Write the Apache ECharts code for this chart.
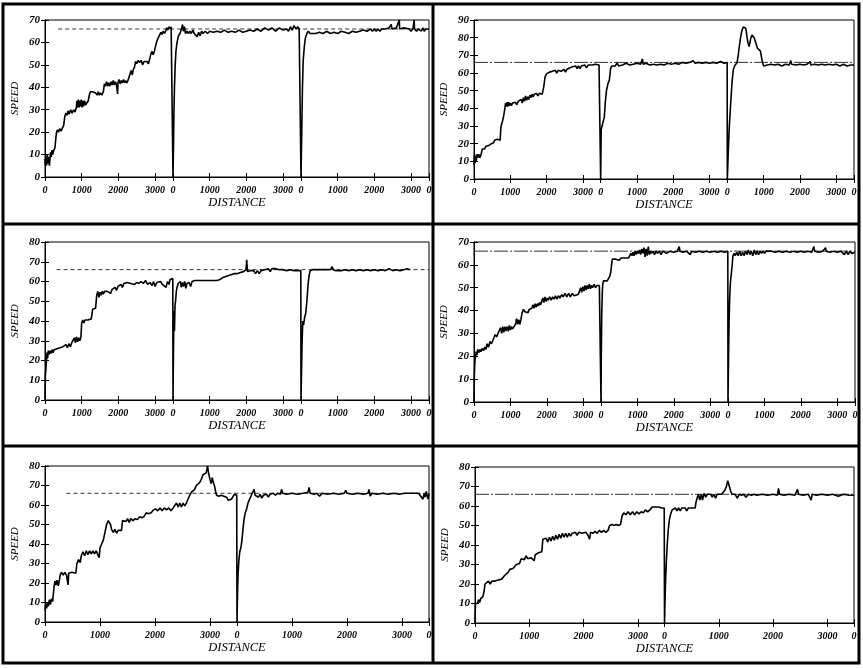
<!DOCTYPE html>
<html><head><meta charset="utf-8">
<script src="https://cdn.jsdelivr.net/npm/echarts@6/dist/echarts.min.js"></script>
<style>html,body{margin:0;padding:0;background:#fff}#c{width:863px;height:668px}</style>
</head><body><div id="c"></div>
<script>
// Segment length (distance units) and tick labels
const L = 3490;
const xTickLabels = [0, 1000, 2000, 3000];
const speedLimit = 66;

// Panel 1 (top-left)
const p1a = [[0,8],[10,5],[25,9],[40,5],[60,10],[80,6],[100,9],[120,5],[135,8],[150,11],[170,9],[190,12],[210,10],[240,12],[270,13],[300,18],[315,20],[340,21],[370,20],[400,21.5],[440,20.5],[480,22],[510,23],[540,27],[570,28.5],[600,27.5],[630,29.5],[660,28],[700,30],[740,28.5],[780,30],[820,29],[855,31],[870,34],[890,31],[910,34.5],[930,31],[950,34],[970,31.5],[990,34.5],[1010,31],[1030,34],[1050,31.5],[1080,34],[1110,32],[1140,33],[1180,34],[1215,37],[1240,38],[1270,38.5],[1300,38],[1340,38],[1380,37.5],[1420,36.5],[1450,38],[1480,36.5],[1510,37.5],[1550,36.5],[1590,38],[1620,41.5],[1650,40.5],[1680,42.5],[1710,40.5],[1740,42],[1770,40.5],[1800,42.5],[1830,41],[1860,43],[1890,41],[1920,42.5],[1950,41],[1980,37],[1990,42],[2020,43.5],[2050,41.5],[2080,43],[2110,42],[2140,43.5],[2170,42],[2200,43],[2230,42],[2260,43],[2290,44.5],[2320,46],[2350,47.5],[2380,45.5],[2410,48],[2440,49],[2470,51.5],[2500,50.5],[2540,52],[2580,51],[2620,52],[2660,50],[2700,51.5],[2740,52],[2780,51.5],[2820,50.5],[2860,53],[2890,55],[2920,56],[2950,54.5],[2980,56],[3010,58],[3040,60],[3070,61.5],[3100,62],[3130,63.5],[3160,64.5],[3190,63.5],[3220,65],[3260,64],[3290,65],[3320,66.5],[3350,65.5],[3380,67],[3410,66],[3440,67],[3485,66.5],[3490,0]];
const p1b = [[15,15],[25,28],[40,40],[60,50],[80,56],[110,60],[150,63],[190,64],[230,66],[260,68],[280,65],[310,67],[340,64],[380,65],[420,64],[460,65],[500,64],[540,65.5],[580,64],[620,64.5],[660,62.5],[700,64.5],[740,63],[780,65],[820,64],[880,65],[940,64],[1000,65],[1100,64.5],[1200,65],[1300,64.5],[1400,65.5],[1500,64.5],[1600,65],[1700,64.5],[1800,65.5],[1900,64.5],[2000,65],[2100,65.5],[2200,65],[2300,66],[2400,65],[2500,66.5],[2600,65.5],[2700,66.5],[2800,65],[2900,66.5],[3000,65.5],[3100,66],[3150,65],[3200,67],[3250,65.5],[3300,67.5],[3350,66],[3400,67],[3440,66],[3485,66.5],[3490,0]];
const p1c = [[20,20],[40,40],[60,52],[90,58],[120,62],[160,64],[200,65],[250,64],[300,64.5],[400,64],[500,64.5],[600,64],[700,65],[800,64],[900,64.5],[1000,64],[1100,65],[1200,64.5],[1300,64],[1400,65],[1500,64.5],[1600,65],[1700,65.5],[1800,65],[1900,66],[1950,65],[2000,66],[2050,65],[2100,66],[2150,65],[2200,66],[2250,65.5],[2300,66],[2400,66.5],[2460,68],[2480,66],[2600,66.5],[2680,70],[2690,66],[2800,66.5],[2850,66],[2950,66],[3000,65],[3050,66],[3085,70],[3095,66],[3150,65],[3200,66],[3280,65],[3320,66.5],[3360,65],[3400,66],[3450,65.5],[3490,66]];

// Panel 2 (top-right)
const p2a = [[0,8],[15,14],[30,9],[45,13],[60,10],[80,14],[100,12],[130,14],[160,12],[190,13.5],[230,17],[260,18],[290,17],[330,18.5],[370,18],[410,19],[450,19],[480,20],[510,21],[540,20.5],[570,22],[600,21],[640,22.5],[680,21.5],[720,22],[740,29],[760,31],[790,33],[820,36],[850,40],[870,43],[890,41],[910,43.5],[930,41],[950,43.5],[970,41.5],[1000,43],[1030,41.5],[1060,43],[1100,42],[1140,43.5],[1180,42],[1220,44],[1260,43.5],[1300,45],[1330,43],[1360,46],[1390,44],[1420,47],[1450,44.5],[1480,46.5],[1510,45],[1540,47.5],[1570,46],[1600,48],[1630,46.5],[1660,48],[1690,47],[1720,48.5],[1760,47],[1800,48.5],[1840,48],[1880,48],[1920,52],[1960,58],[2000,59.5],[2040,59],[2080,60.5],[2120,59.5],[2160,61],[2200,60],[2240,61.5],[2280,60],[2320,61.5],[2360,60.5],[2400,61],[2440,60],[2480,62],[2520,60.5],[2560,62],[2600,61.5],[2640,63],[2680,62],[2720,63.5],[2760,62.5],[2800,64],[2840,62.5],[2880,64],[2920,62.5],[2960,64],[3000,63],[3050,64.5],[3100,63],[3150,64.5],[3200,63.5],[3250,64.5],[3300,64],[3350,65],[3400,64],[3445,64.5],[3485,64.5],[3490,0]];
const p2b = [[15,28],[40,29],[70,28],[100,35],[130,44],[160,50],[200,54],[240,56],[270,62],[300,64],[340,65],[400,64],[450,65.5],[500,64],[550,65],[600,64.5],[650,65],[700,65.5],[800,64.5],[900,65],[1000,65.5],[1100,65],[1150,68],[1170,65],[1250,65.5],[1350,64.5],[1450,65],[1550,64.5],[1650,65],[1750,64.5],[1850,65.5],[1950,65],[2050,65.5],[2150,65],[2250,66],[2350,65.5],[2450,66],[2500,65],[2550,67],[2600,65.5],[2700,66],[2800,65.5],[2900,66],[3000,65.5],[3100,66],[3200,65.5],[3300,66.5],[3400,65.5],[3445,66],[3485,66],[3490,0]];
const p2c = [[25,15],[50,28],[90,42],[130,55],[165,62],[200,64],[230,65],[270,66],[300,70],[330,75],[365,80],[400,84],[440,86],[470,87],[500,85.5],[520,84],[545,80],[570,77],[600,75],[625,76],[650,80],[680,81.5],[710,82],[740,80],[770,78],[800,76],[830,74],[870,73.5],[910,72.5],[940,69],[970,66],[1000,64],[1050,65],[1100,64.5],[1200,65],[1300,64.5],[1400,65],[1500,64],[1600,65],[1700,64.5],[1750,67],[1770,65],[1900,64.5],[2000,65],[2100,64.5],[2200,65],[2280,66.5],[2300,64.5],[2400,65],[2500,64.5],[2600,65],[2700,64.5],[2800,65],[2900,64.5],[3000,65],[3100,64],[3200,65],[3300,64],[3400,64.5],[3450,64],[3490,64.5]];

// Panel 3 (middle-left)
const p3a = [[0,0],[10,12],[25,16],[40,20],[55,24],[70,21],[90,25],[110,23],[135,25],[160,23.5],[190,25.5],[220,24],[250,25.5],[290,24.5],[330,26],[370,25],[410,26.5],[450,26],[490,27],[530,26],[570,28],[610,26.5],[650,28.5],[690,27],[730,29],[765,30],[800,31.5],[830,29],[860,32],[890,29.5],[920,31.5],[950,30],[980,32],[1000,39],[1030,40.5],[1060,39],[1090,40.5],[1130,39.5],[1170,40.5],[1210,40],[1260,41],[1300,46],[1340,47],[1380,46.5],[1410,53],[1440,55],[1470,52],[1500,54.5],[1530,53],[1560,55],[1590,53.5],[1620,55],[1660,54],[1700,55],[1750,55.5],[1790,54],[1830,56],[1870,55],[1910,57],[1950,55.5],[1990,57.5],[2030,57],[2070,58.5],[2110,57],[2150,59],[2190,58],[2240,59.5],[2290,58.5],[2340,59],[2390,59.5],[2440,58.5],[2500,59.5],[2560,59],[2620,60],[2680,59],[2740,60.5],[2800,58.5],[2860,59.5],[2920,58],[2960,60],[3000,57.5],[3050,59.5],[3100,58.5],[3150,60],[3200,58.5],[3250,59.5],[3300,57],[3340,60],[3380,58.5],[3410,61],[3440,62],[3485,61.5],[3490,0]];
const p3b = [[10,20],[25,45],[40,35],[55,48],[70,50],[90,55],[110,57],[140,59],[170,58],[200,60],[230,57],[260,59.5],[290,57.5],[320,60],[350,56.5],[380,59],[410,58],[440,59.5],[480,57.5],[520,60],[560,60],[600,60.5],[700,60.5],[800,60.5],[900,60.5],[1000,60.5],[1100,60.5],[1200,60.5],[1280,61],[1320,60.5],[1360,62],[1400,61],[1440,62.5],[1480,61.5],[1520,63],[1560,62],[1600,63.5],[1640,63],[1680,64],[1720,63],[1760,64],[1800,63.5],[1840,64.5],[1880,63.5],[1920,65],[1960,64],[1990,66],[2010,71],[2030,65],[2060,64],[2100,65.5],[2150,64.5],[2200,65.5],[2250,64],[2300,65.5],[2350,64],[2400,65.5],[2450,64.5],[2500,66],[2550,65],[2600,66.5],[2650,65],[2700,66.5],[2750,65.5],[2800,66.5],[2850,65.5],[2900,66],[2950,65],[3000,66],[3050,65],[3100,65.5],[3150,65],[3200,66],[3250,65],[3300,65.5],[3350,65],[3400,65.5],[3440,65],[3485,65.5],[3490,0]];
const p3c = [[15,15],[30,30],[50,40],[70,38],[100,42],[130,44],[160,50],[190,58],[220,63],[250,65.5],[280,64.5],[320,66],[360,65],[400,66],[450,65],[500,66],[550,65],[600,66],[650,65.5],[700,66],[750,65],[800,66],[850,67.5],[880,66],[950,65.5],[1000,66],[1100,65.5],[1200,66],[1300,65.5],[1400,66],[1500,65.5],[1600,66],[1700,65.5],[1800,66],[1900,65.5],[2000,66],[2100,65.5],[2200,66],[2300,65.5],[2400,66.5],[2500,65.5],[2600,66],[2700,65.5],[2800,66],[2900,66.5],[2950,67.5],[2970,66]];

// Panel 4 (middle-right)
const p4a = [[0,0],[10,12],[25,18],[45,20],[60,22],[80,20.5],[100,23],[130,21.5],[160,23],[190,22],[230,23.5],[260,22.5],[300,24],[330,23],[360,25.5],[400,24],[440,26.5],[480,25.5],[520,27],[545,28],[580,29.5],[620,28.5],[660,30],[700,30.5],[730,32.5],[760,30],[790,33],[820,30.5],[850,33],[880,31],[910,33],[940,31],[970,33.5],[1000,31.5],[1030,33],[1060,32],[1100,33],[1140,34],[1170,36.5],[1200,34],[1230,36],[1260,34],[1290,36],[1320,39],[1360,40.5],[1400,39.5],[1440,40],[1480,39],[1520,40.5],[1560,40],[1590,41],[1620,42.5],[1650,41],[1680,43],[1710,41.5],[1740,43],[1770,42],[1800,43.5],[1830,42.5],[1860,44],[1890,45.5],[1920,43.5],[1950,46],[1980,44],[2010,45.5],[2040,44.5],[2080,46],[2120,44.5],[2160,46],[2200,45],[2240,46.5],[2280,45],[2320,46.5],[2360,45.5],[2410,47],[2450,46],[2500,47.5],[2550,46],[2600,47.5],[2650,46],[2700,47.5],[2750,46.5],[2800,47],[2860,47],[2900,48.5],[2930,50],[2960,48],[2990,50.5],[3020,48.5],[3050,51],[3080,49],[3110,51],[3140,49.5],[3170,51.5],[3200,49.5],[3230,51],[3260,50],[3300,51.5],[3340,50],[3380,51],[3420,50.5],[3445,51],[3485,50.5],[3490,0]];
const p4b = [[8,20],[20,38],[35,48],[50,52],[70,53],[120,53],[170,53],[210,53.5],[240,55],[270,57],[290,60],[310,62.5],[350,63],[400,62.5],[450,63],[500,62],[550,63],[600,62.5],[650,63],[700,62.5],[750,63],[790,64],[820,65],[850,64],[880,65.5],[910,64],[940,66],[970,64.5],[1000,66],[1030,65],[1060,66.5],[1090,64.5],[1120,67],[1150,65],[1180,67.5],[1210,63.5],[1240,67],[1270,64],[1300,68],[1330,64.5],[1360,66],[1390,65],[1430,66],[1470,64.5],[1510,66],[1550,65],[1600,66],[1650,64.5],[1700,66],[1800,65],[1900,66],[2000,65.5],[2100,66],[2150,68],[2170,66],[2250,65.5],[2350,66],[2450,64.5],[2500,66],[2600,65.5],[2700,66],[2800,65.5],[2900,66],[3000,65.5],[3100,66],[3200,65.5],[3300,66],[3400,65.5],[3445,66],[3485,66],[3490,0]];
const p4c = [[15,20],[30,35],[45,45],[65,52],[90,56],[115,60],[136,64],[170,65],[200,64],[240,65.5],[280,64],[320,66],[360,64],[400,65.5],[440,64],[480,66],[520,64.5],[560,66.5],[600,64.5],[640,66],[680,64],[720,66.5],[760,64.5],[800,66],[840,64.5],[880,66],[920,65],[960,66],[1000,65],[1050,66],[1100,65.5],[1200,66],[1300,65.5],[1400,66],[1500,65.5],[1600,66],[1700,65.5],[1800,66],[1900,65.5],[2000,66],[2100,65.5],[2200,66],[2300,65.5],[2360,68],[2380,66],[2500,65.5],[2600,66],[2680,67.5],[2700,66],[2800,65.5],[2900,66],[3000,65.5],[3100,66],[3200,64.5],[3250,66],[3300,64.5],[3350,66],[3400,65],[3450,65.5],[3490,65.5]];

// Panel 5 (bottom-left)
const p5a = [[0,6],[15,9.5],[30,7],[45,10],[60,8],[80,11.5],[100,9],[120,12],[140,10.5],[150,14],[165,18],[180,21],[200,19],[220,21.5],[240,18.5],[260,21],[275,24],[300,25.5],[330,24],[360,25.5],[390,24],[420,19],[430,25],[460,24],[490,25.5],[520,24.5],[560,25],[580,30],[610,32],[640,30.5],[660,34],[690,36],[720,34],[750,36.5],[780,34.5],[810,36.5],[840,35],[870,36.5],[900,35],[930,36.5],[960,35.5],[985,33],[1000,38],[1030,40],[1060,42],[1090,46],[1120,50],[1150,52],[1170,53],[1190,50],[1210,47.5],[1240,46],[1270,47.5],[1300,45.5],[1330,47],[1360,46],[1390,47],[1410,52],[1440,53],[1470,51.5],[1500,53],[1530,51],[1560,53],[1600,52],[1640,53],[1680,52.5],[1720,54],[1760,53.5],[1800,54],[1840,56],[1880,55.5],[1930,56],[1970,57.5],[2010,58],[2050,57],[2090,58.5],[2130,57],[2170,58.5],[2210,57.5],[2250,58.5],[2290,57],[2330,58.5],[2360,59.5],[2390,61],[2420,59],[2450,61],[2480,59],[2510,61],[2540,59.5],[2570,61],[2600,62],[2630,65],[2660,66.5],[2690,66],[2720,68],[2750,70],[2780,71],[2810,71.5],[2840,73],[2870,75.5],[2900,74.5],[2930,76.5],[2955,80],[2975,76],[3000,73],[3020,71],[3040,74],[3060,71.5],[3080,70],[3100,67],[3120,65],[3160,64.5],[3200,65],[3250,64.5],[3300,64],[3330,62.5],[3360,62],[3390,63],[3420,64],[3440,65.5],[3485,65],[3490,0]];
const p5b = [[10,15],[20,25],[35,32],[50,36],[70,38],[90,42],[110,48],[130,53],[150,56],[175,58],[200,61],[230,63],[260,65],[290,66],[310,68],[330,65],[360,66],[390,64],[420,65.5],[450,63.5],[480,65],[510,64],[540,65.5],[570,64],[600,65.5],[630,64.5],[660,66],[700,65],[740,66],[790,65.5],[810,68],[830,66],[900,65.5],[1000,66],[1100,65.5],[1200,66],[1290,66.5],[1310,69],[1330,66],[1400,65.5],[1450,66],[1500,64.5],[1550,66],[1650,65.5],[1750,66],[1850,65.5],[1950,66],[1975,67.5],[2000,66],[2100,65.5],[2200,66],[2300,65.5],[2380,66],[2400,68],[2420,64.5],[2450,66],[2550,65.5],[2650,66],[2750,65.5],[2850,66],[2950,65.5],[3050,66],[3080,67],[3100,66],[3200,66],[3300,66],[3380,63],[3400,66],[3420,64],[3440,67],[3470,63],[3490,66]];

// Panel 6 (bottom-right)
const p6a = [[0,0],[8,10],[25,11],[45,10],[65,12],[85,10.5],[105,12.5],[125,11.5],[145,13.5],[165,16],[185,20],[200,21],[220,19],[250,21.5],[280,20],[310,21.5],[340,20.5],[370,21.5],[400,20.5],[430,22],[460,21],[490,22.5],[520,23],[550,24.5],[580,23.5],[610,26],[640,27.5],[670,26.5],[700,28],[730,28.5],[760,30],[790,29],[820,30.5],[850,33],[880,34],[910,32.5],[940,34.5],[970,33],[1000,34],[1030,33.5],[1060,34.5],[1090,32],[1110,35],[1140,34.5],[1170,36],[1200,35],[1230,36.5],[1250,43],[1280,42],[1310,43.5],[1340,41.5],[1370,44],[1400,42],[1430,44.5],[1460,42.5],[1490,45],[1520,43],[1550,45.5],[1580,43.5],[1610,46],[1640,44],[1670,46],[1700,44],[1730,46],[1760,44.5],[1790,46],[1820,45],[1850,46.5],[1880,45],[1910,46.5],[1940,45.5],[1970,46],[2000,45.5],[2040,46.5],[2080,45],[2110,43],[2130,46.5],[2170,46],[2210,47],[2250,46],[2290,47.5],[2330,46.5],[2370,47.5],[2410,46.5],[2450,47.5],[2480,50],[2520,50.5],[2560,50],[2600,50.5],[2640,50],[2680,50.5],[2710,55],[2740,56.5],[2780,55.5],[2820,57],[2860,55.5],[2900,57],[2940,55.5],[2980,57],[3020,56],[3060,57],[3100,56.5],[3140,58],[3180,57],[3220,58],[3260,59.5],[3300,59.5],[3340,59.5],[3380,59.5],[3410,58.5],[3440,59],[3485,59],[3490,0]];
const p6b = [[10,12],[20,22],[35,32],[50,40],[70,48],[90,53],[115,56],[140,58],[170,57.5],[200,59],[230,57.5],[260,59],[290,57.5],[320,59],[350,58],[380,59],[410,57.5],[440,59],[470,58],[500,59],[530,58],[565,59],[580,62],[600,64],[625,66],[650,63],[680,66],[700,63],[730,66.5],[760,64.5],[790,66],[820,65],[850,66],[880,64.5],[910,66],[940,64],[970,66],[1000,65],[1050,66],[1080,66],[1110,68],[1140,70],[1165,73],[1180,74],[1195,70],[1215,68],[1240,66],[1270,65],[1300,66],[1340,64],[1380,66],[1420,65.5],[1460,66],[1500,64.5],[1550,66],[1600,65.5],[1650,66],[1700,65.5],[1800,66],[1900,65.5],[2000,66],[2080,65.5],[2100,69],[2120,66],[2200,65.5],[2300,66],[2400,65.5],[2450,68.5],[2470,66],[2550,65.5],[2650,66],[2700,63],[2720,66],[2800,65.5],[2900,66],[3000,65.5],[3100,66],[3200,65],[3300,66],[3400,65.5],[3450,65.5],[3490,65.5]];

// Y-axis maxima per panel and where the speed-limit line begins
const yMax = [70, 90, 80, 70, 80, 80];
const refStart = [360, 0, 315, 0, 390, 0];

// Layout (pixels)
const panels = [
  {segs:[p1a,p1b,p1c], grid:{left:45, top:20, width:384, height:157}, dash:[4,3]},
  {segs:[p2a,p2b,p2c], grid:{left:474, top:20, width:380, height:159}, dash:[14,2,2,2]},
  {segs:[p3a,p3b,p3c], grid:{left:45, top:242, width:384, height:158}, dash:[4,3]},
  {segs:[p4a,p4b,p4c], grid:{left:474, top:242, width:381, height:160}, dash:[14,2,2,2]},
  {segs:[p5a,p5b], grid:{left:45, top:466, width:384, height:156}, dash:[4,3]},
  {segs:[p6a,p6b], grid:{left:475, top:467, width:379, height:156}, dash:[14,2,2,2]}
];

const FONT = '"Liberation Serif", "DejaVu Serif", serif';
function build(segs){const out=[];segs.forEach((s,k)=>s.forEach(p=>out.push([p[0]+k*L,p[1]])));return out;}
function ticks(n){const t=[];for(let k=0;k<n;k++)xTickLabels.forEach(v=>t.push(k*L+v));t.push(n*L);return t;}
function fmt(v){let r=v-L*Math.floor(v/L+1e-9);if(Math.abs(r)<1e-6||Math.abs(r-L)<1e-6)r=0;return String(Math.round(r));}

const grids=[],xAxes=[],yAxes=[],series=[];
panels.forEach((p,i)=>{
  const n=p.segs.length, tv=ticks(n);
  grids.push(Object.assign({show:true,borderColor:'#000',borderWidth:1,containLabel:false},p.grid));
  const axLine={show:true,lineStyle:{color:'#000',width:1}};
  xAxes.push({type:'value',gridIndex:i,min:0,max:n*L,position:'bottom',
    axisLine:axLine,splitLine:{show:false},
    axisTick:{show:true,inside:true,length:4,customValues:tv,lineStyle:{color:'#000'}},
    axisLabel:{customValues:tv,formatter:fmt,margin:8,color:'#000',fontFamily:FONT,fontStyle:'italic',fontWeight:'bold',fontSize:10},
    name:'DISTANCE',nameLocation:'middle',nameGap:18,
    nameTextStyle:{color:'#000',fontFamily:FONT,fontStyle:'italic',fontSize:12.5}});
  xAxes.push({type:'value',gridIndex:i,min:0,max:n*L,position:'top',
    axisLine:axLine,splitLine:{show:false},
    axisTick:{show:true,inside:true,length:4,customValues:tv,lineStyle:{color:'#000'}},
    axisLabel:{show:false}});
  yAxes.push({type:'value',gridIndex:i,min:0,max:yMax[i],interval:10,position:'left',
    axisLine:axLine,splitLine:{show:false},
    axisTick:{show:true,inside:true,length:4,lineStyle:{color:'#000'}},
    axisLabel:{margin:5,color:'#000',fontFamily:FONT,fontStyle:'italic',fontWeight:'bold',fontSize:11},
    name:'SPEED',nameLocation:'middle',nameGap:24,nameRotate:90,
    nameTextStyle:{color:'#000',fontFamily:FONT,fontStyle:'italic',fontSize:11}});
  yAxes.push({type:'value',gridIndex:i,min:0,max:yMax[i],interval:10,position:'right',
    axisLine:axLine,splitLine:{show:false},
    axisTick:{show:true,inside:true,length:4,lineStyle:{color:'#000'}},
    axisLabel:{show:false}});
  series.push({type:'line',xAxisIndex:2*i,yAxisIndex:2*i,data:[[refStart[i],speedLimit],[n*L,speedLimit]],
    showSymbol:false,silent:true,lineStyle:{color:'#000',width:0.8,type:p.dash}});
  series.push({type:'line',xAxisIndex:2*i,yAxisIndex:2*i,data:build(p.segs),
    showSymbol:false,silent:true,lineStyle:{color:'#000',width:1.6}});
});

const frame={stroke:'#000',lineWidth:3,fill:null};
const chart=echarts.init(document.getElementById('c'),null,{renderer:'canvas'});
chart.setOption({
  animation:false,
  grid:grids,xAxis:xAxes,yAxis:yAxes,series:series,
  graphic:[
    {type:'rect',shape:{x:3,y:4,width:856,height:659},style:frame,z:10},
    {type:'line',shape:{x1:433,y1:4,x2:433,y2:663},style:frame,z:10},
    {type:'line',shape:{x1:3,y1:224,x2:859,y2:224},style:frame,z:10},
    {type:'line',shape:{x1:3,y1:446,x2:859,y2:446},style:frame,z:10}
  ]
});
</script></body></html>
